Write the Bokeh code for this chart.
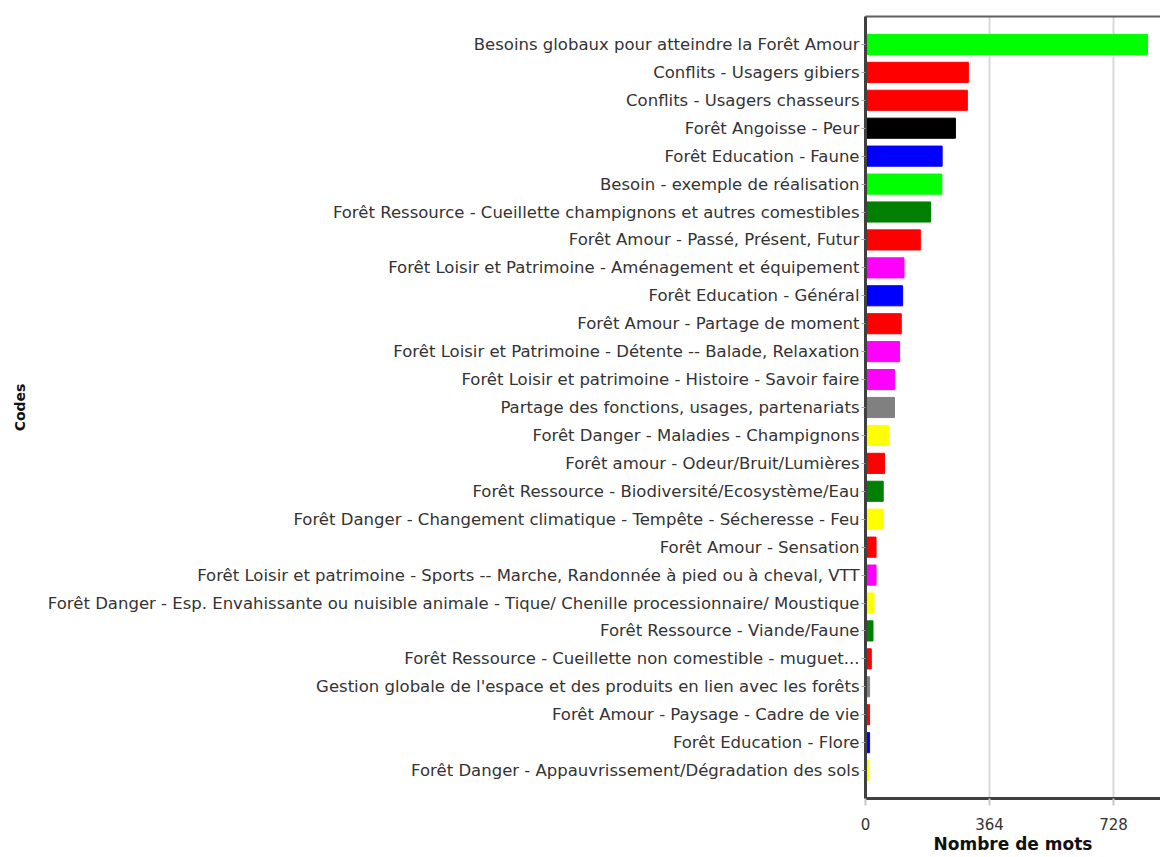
from bokeh.plotting import figure
from bokeh.models import ColumnDataSource, FactorRange, Range1d, FixedTicker, LinearAxis
from bokeh.embed import file_html
from bokeh.resources import INLINE

codes = [
    "Besoins globaux pour atteindre la Forêt Amour",
    "Conflits - Usagers gibiers",
    "Conflits - Usagers chasseurs",
    "Forêt Angoisse - Peur",
    "Forêt Education - Faune",
    "Besoin - exemple de réalisation",
    "Forêt Ressource - Cueillette champignons et autres comestibles",
    "Forêt Amour - Passé, Présent, Futur",
    "Forêt Loisir et Patrimoine - Aménagement et équipement",
    "Forêt Education - Général",
    "Forêt Amour - Partage de moment",
    "Forêt Loisir et Patrimoine - Détente -- Balade, Relaxation",
    "Forêt Loisir et patrimoine - Histoire - Savoir faire",
    "Partage des fonctions, usages, partenariats",
    "Forêt Danger - Maladies - Champignons",
    "Forêt amour - Odeur/Bruit/Lumières",
    "Forêt Ressource - Biodiversité/Ecosystème/Eau",
    "Forêt Danger - Changement climatique - Tempête - Sécheresse - Feu",
    "Forêt Amour - Sensation",
    "Forêt Loisir et patrimoine - Sports -- Marche, Randonnée à pied ou à cheval, VTT",
    "Forêt Danger - Esp. Envahissante ou nuisible animale - Tique/ Chenille processionnaire/ Moustique",
    "Forêt Ressource - Viande/Faune",
    "Forêt Ressource - Cueillette non comestible - muguet...",
    "Gestion globale de l'espace et des produits en lien avec les forêts",
    "Forêt Amour - Paysage - Cadre de vie",
    "Forêt Education - Flore",
    "Forêt Danger - Appauvrissement/Dégradation des sols",
]
words = [828, 302, 299, 264, 225, 224, 191, 161, 113, 109, 105, 100, 85, 85,
         68, 56, 52, 52, 31, 31, 25, 22, 17, 12, 12, 12, 10]
colors = ["#00FF00", "#FF0000", "#FF0000", "#000000", "#0000FF", "#00FF00",
          "#007F00", "#FF0000", "#FF00FF", "#0000FF", "#FF0000", "#FF00FF",
          "#FF00FF", "#808080", "#FFFF00", "#FF0000", "#007F00", "#FFFF00",
          "#FF0000", "#FF00FF", "#FFFF00", "#007F00", "#FF0000", "#808080",
          "#FF0000", "#0000FF", "#FFFF00"]
x_ticks = [0, 364, 728]

src = ColumnDataSource(dict(code=codes, words=words, color=colors))

FONT = "DejaVu Sans"

p = figure(
    width=1160, height=857,
    y_range=FactorRange(factors=list(reversed(codes)), range_padding=0.5,
                        range_padding_units="absolute"),
    x_range=Range1d(0, 866),
    output_backend="svg", toolbar_location=None,
    min_border_left=865, min_border_right=0, min_border_top=16, min_border_bottom=59,
)
p.hbar(y="code", right="words", left=0, height=0.72, color="color", source=src)

p.outline_line_color = None
p.background_fill_color = "white"
p.border_fill_color = "white"

# grids
p.ygrid.grid_line_color = None
p.xgrid.ticker = FixedTicker(ticks=x_ticks)
p.xgrid.grid_line_color = "#d8d8d8"
p.xgrid.grid_line_width = 2

# x axis
xa = p.xaxis[0]
xa.ticker = FixedTicker(ticks=x_ticks)
xa.axis_line_color = "#404040"
xa.axis_line_width = 3
xa.major_tick_line_color = "#c8c8c8"
xa.major_tick_line_width = 2
xa.major_tick_out = 7
xa.major_tick_in = 0
xa.minor_tick_line_color = None
xa.major_label_text_font = FONT
xa.major_label_text_font_size = "15px"
xa.major_label_text_color = "#333333"
xa.major_label_standoff = 12
xa.axis_label = "Nombre de mots"
xa.axis_label_text_font = FONT
xa.axis_label_text_font_size = "17px"
xa.axis_label_text_font_style = "bold"
xa.axis_label_text_color = "#111111"
xa.axis_label_standoff = 1

# y axis
ya = p.yaxis[0]
ya.axis_line_color = "#404040"
ya.axis_line_width = 3
ya.major_tick_line_color = "#a0a0a0"
ya.major_tick_out = 4
ya.major_tick_in = 0
ya.major_label_text_font = FONT
ya.major_label_text_font_size = "16.5px"
ya.major_label_text_color = "#333333"
ya.major_label_standoff = 2
ya.axis_label = "Codes"
ya.axis_label_text_font = FONT
ya.axis_label_text_font_size = "14px"
ya.axis_label_text_font_style = "bold"
ya.axis_label_text_color = "#111111"
ya.axis_label_standoff = 17

# top border line
top = LinearAxis(ticker=FixedTicker(ticks=[]), axis_line_color="#606060",
                 axis_line_width=2, major_label_text_font_size="0px",
                 major_tick_line_color=None, minor_tick_line_color=None)
p.add_layout(top, "above")

open("out.html", "w").write(file_html(p, INLINE))
